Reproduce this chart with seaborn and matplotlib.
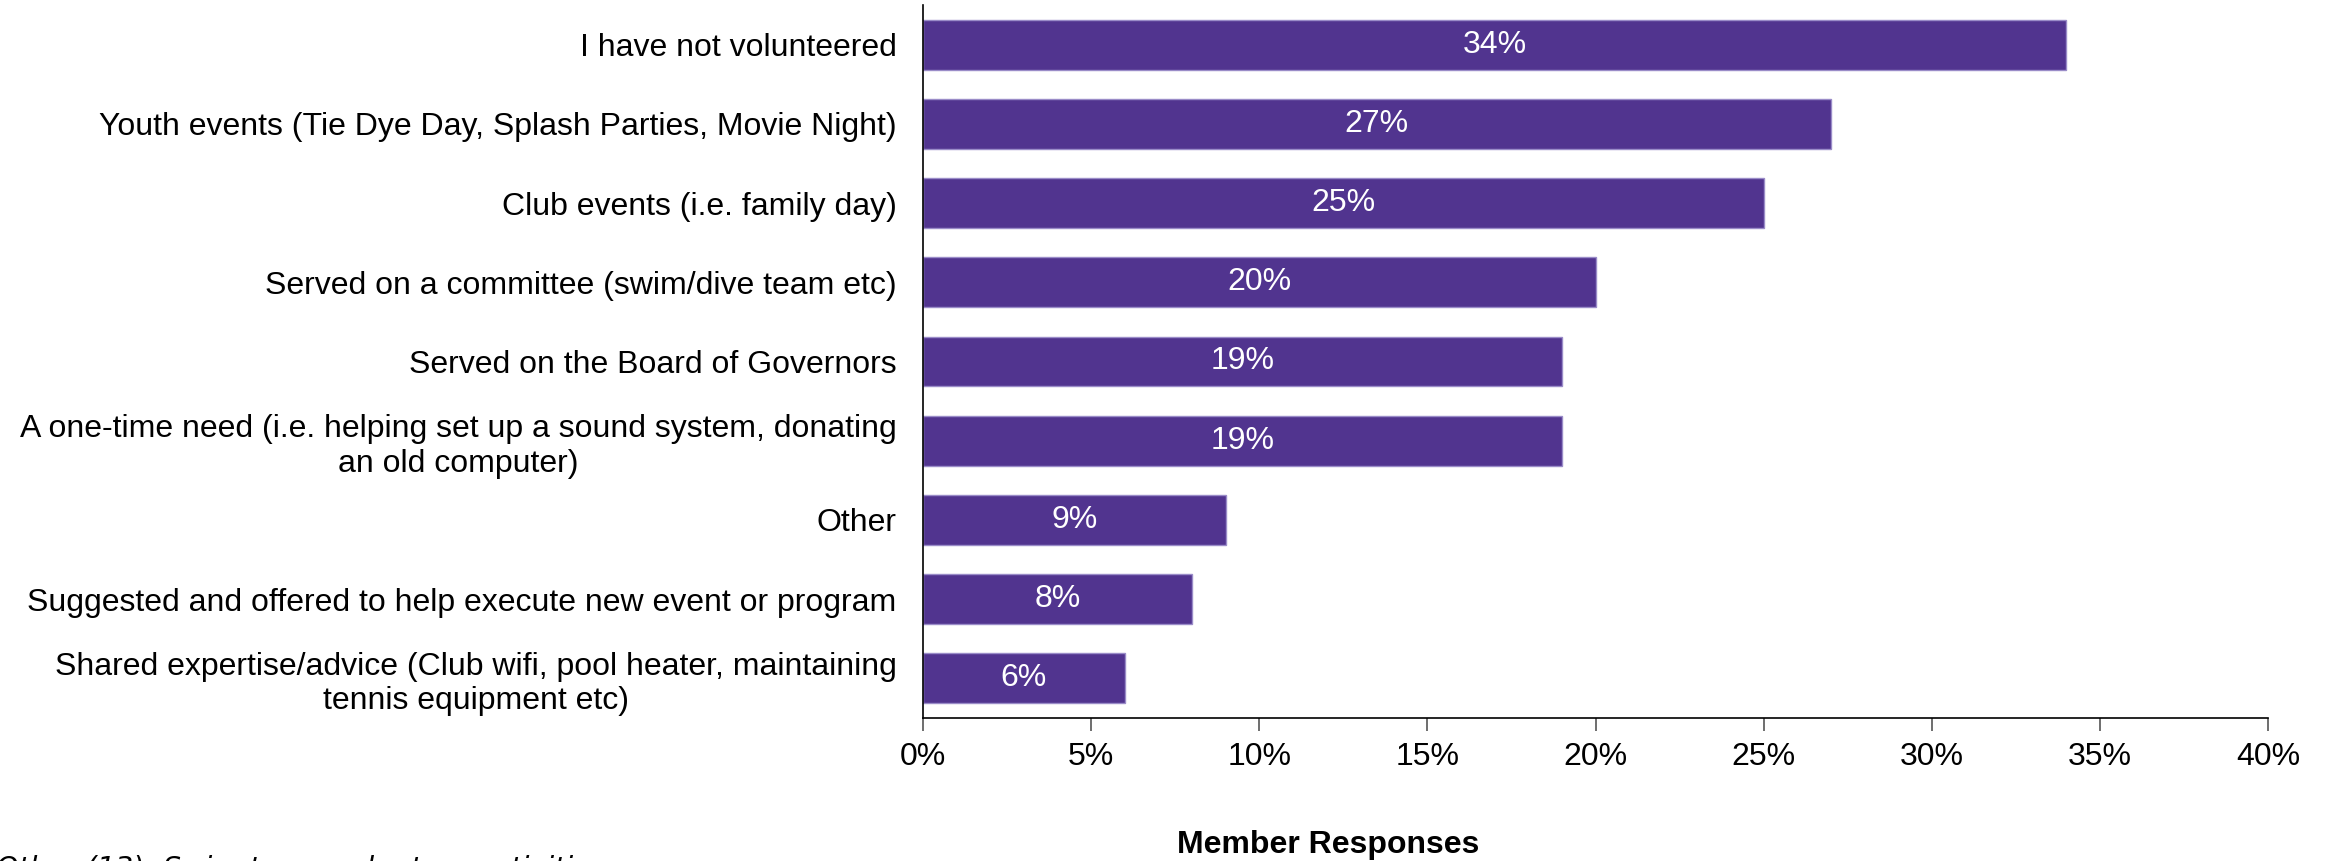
import matplotlib
matplotlib.use("Agg")
import matplotlib.pyplot as plt
import matplotlib.ticker as mtick
import seaborn as sns
import pandas as pd

categories = [
    "I have not volunteered",
    "Youth events (Tie Dye Day, Splash Parties, Movie Night)",
    "Club events (i.e. family day)",
    "Served on a committee (swim/dive team etc)",
    "Served on the Board of Governors",
    "A one-time need (i.e. helping set up a sound system, donating\nan old computer)",
    "Other",
    "Suggested and offered to help execute new event or program",
    "Shared expertise/advice (Club wifi, pool heater, maintaining\ntennis equipment etc)",
]
values = [34, 27, 25, 20, 19, 19, 9, 8, 6]
x_ticks = [0, 5, 10, 15, 20, 25, 30, 35, 40]

footnote = "Other (13): Swim team volunteer activities"
x_title = "Member Responses"

df = pd.DataFrame({"category": categories, "value": values})

sns.set_theme(style="white")
plt.rcParams["font.family"] = ["Liberation Sans", "DejaVu Sans"]
plt.rcParams["text.color"] = "black"
plt.rcParams["xtick.color"] = "black"
plt.rcParams["ytick.color"] = "black"

W, H = 2330, 861
FS = 23
fig = plt.figure(figsize=(W / 100, H / 100), dpi=100)
ax = fig.add_axes([923 / W, 1 - 718 / H, (2268 - 923) / W, (718 - 5) / H])

sns.barplot(
    data=df, x="value", y="category", orient="h",
    color="#51348f", saturation=1, width=0.63,
    edgecolor="#9a8cc8", linewidth=1, ax=ax,
)

# value labels in the middle of each bar
for bar, v in zip(ax.patches, values):
    ax.text(
        bar.get_width() / 2, bar.get_y() + bar.get_height() / 2,
        f"{v}%", ha="center", va="center", color="white", fontsize=FS,
    )

ax.set_xlim(0, 40)
ax.set_ylim(len(categories) - 0.5, -0.5)
ax.set_xticks(x_ticks)
ax.xaxis.set_major_formatter(mtick.FuncFormatter(lambda v, p: f"{v:.0f}%"))
ax.set_xlabel("")
ax.set_ylabel("")

ax.tick_params(axis="x", labelsize=FS, length=9, width=1.2, color="#555555",
               labelcolor="black", direction="out", bottom=True, pad=8)
ax.tick_params(axis="y", labelsize=FS, length=0, pad=19, labelcolor="black")
for lbl in ax.get_yticklabels():
    lbl.set_multialignment("center")

for side in ["top", "right"]:
    ax.spines[side].set_visible(False)
for side in ["left", "bottom"]:
    ax.spines[side].set_color("black")
    ax.spines[side].set_linewidth(1.2)

fig.text(1328 / W, 1 - 845 / H, x_title, ha="center", va="center",
         fontsize=FS, fontweight="bold", color="black")
fig.text(-4 / W, 7 / H, footnote, ha="left", va="top", fontsize=20.5,
         style="italic", family="DejaVu Sans", color="black")

fig.savefig("out.png", dpi=100)
